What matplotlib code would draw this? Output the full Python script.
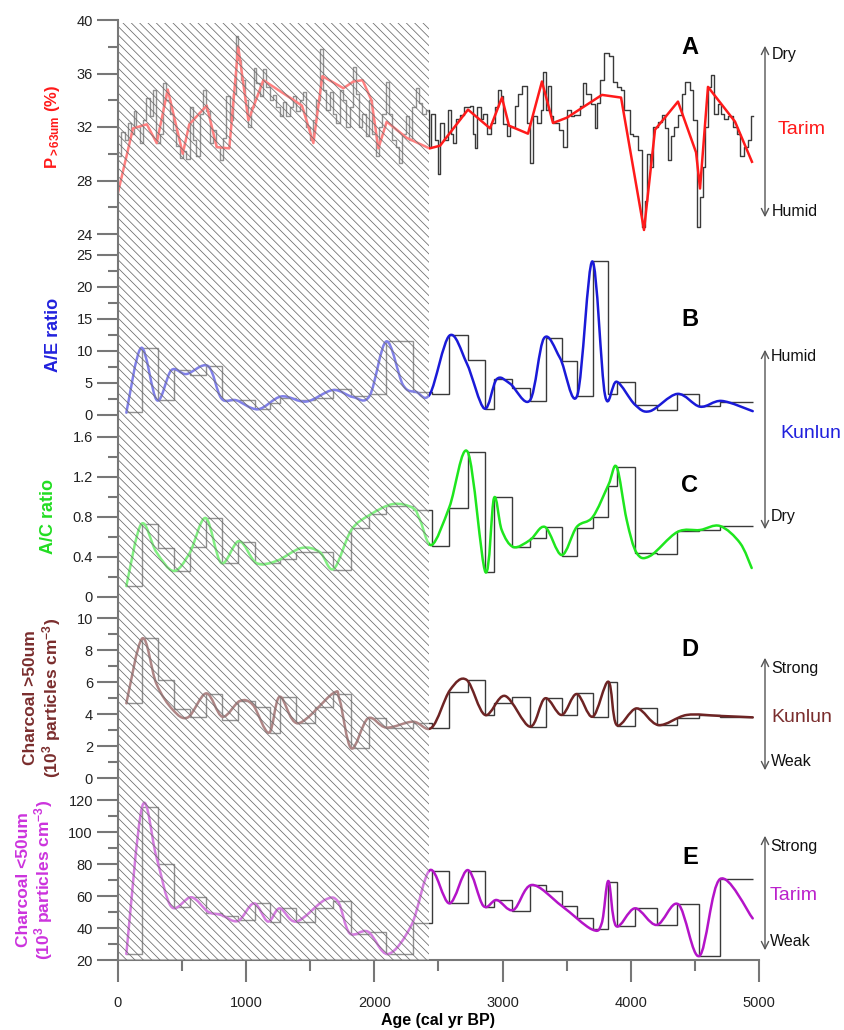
import numpy as np
import matplotlib.pyplot as plt
from matplotlib.path import Path
from matplotlib.patches import PathPatch, Rectangle, FancyArrowPatch

plt.rcParams['font.family'] = ['Liberation Sans', 'DejaVu Sans']
plt.rcParams['mathtext.fontset'] = 'custom'
plt.rcParams['mathtext.rm'] = 'Liberation Sans'
plt.rcParams['mathtext.bf'] = 'Liberation Sans:bold'
plt.rcParams['mathtext.it'] = 'Liberation Sans:italic'
plt.rcParams['hatch.linewidth'] = 0.55

# ---------------- data ----------------
# A: grain size >63um, high-resolution step record + coarse red line
a_step_age = [0, 25, 52, 78, 104, 125, 143, 169, 195, 221, 247, 273, 299, 325, 351, 377, 403, 429,
              455, 481, 507, 533, 559, 585, 611, 637, 663, 689, 715, 741, 767, 793, 819, 845, 871,
              897, 920, 938, 962, 988, 1014, 1040, 1060, 1080, 1105, 1131, 1157, 1183, 1209, 1235,
              1261, 1287, 1313, 1339, 1365, 1391, 1417, 1443, 1469, 1495, 1521, 1547, 1573, 1599,
              1625, 1651, 1677, 1703, 1729, 1755, 1781, 1807, 1830, 1855, 1880, 1906, 1932, 1958,
              1984, 2010, 2036, 2062, 2088, 2114, 2140, 2166, 2192, 2218, 2244, 2270, 2296, 2322,
              2348, 2374, 2400, 2426, 2445, 2470, 2500, 2515, 2545, 2577, 2600, 2616, 2640, 2668,
              2700, 2746, 2770, 2785, 2800, 2830, 2850, 2876, 2910, 2940, 2967, 2990, 3006, 3032,
              3060, 3097, 3120, 3150, 3190, 3214, 3235, 3270, 3300, 3318, 3335, 3355, 3375, 3396,
              3440, 3474, 3500, 3530, 3560, 3600, 3630, 3650, 3690, 3721, 3740, 3760, 3790, 3830,
              3860, 3890, 3920, 3950, 3994, 4020, 4055, 4085, 4110, 4130, 4150, 4175, 4210, 4241,
              4270, 4293, 4310, 4340, 4370, 4400, 4420, 4460, 4485, 4519, 4540, 4560, 4580, 4600,
              4625, 4650, 4680, 4700, 4730, 4760, 4800, 4830, 4852, 4885, 4917, 4935, 4951]
a_step_val = [29.8, 31.6, 31.0, 32.3, 31.5, 33.2, 32.0, 30.8, 32.5, 34.2, 32.8, 34.8, 30.8, 31.5,
              35.3, 34.0, 33.0, 31.8, 30.6, 29.7, 30.2, 29.6, 33.5, 31.0, 29.8, 33.0, 34.8, 33.2,
              30.8, 31.8, 30.5, 29.5, 31.2, 34.3, 32.5, 34.5, 38.8, 37.0, 35.5, 34.0, 32.0, 33.5,
              36.4, 35.3, 34.3, 36.3, 35.0, 34.0, 34.4, 33.5, 32.8, 33.9, 32.8, 33.5, 34.3, 33.2,
              34.0, 34.6, 32.0, 31.0, 32.5, 34.0, 37.8, 34.8, 33.3, 34.6, 33.0, 32.3, 34.8, 34.0,
              32.0, 33.5, 36.5, 34.5, 32.0, 33.0, 31.3, 34.0, 31.5, 29.8, 32.0, 33.0, 35.4, 33.0,
              31.0, 30.5, 29.3, 31.5, 32.8, 31.0, 33.5, 34.9, 33.8, 33.0, 33.3,
              30.5, 33.0, 31.0, 28.5, 32.3, 31.0, 33.3, 31.5, 30.8, 32.6, 32.9, 33.5, 33.6, 31.5,
              30.4, 33.5, 32.6, 33.0, 31.5, 32.3, 33.5, 34.8, 34.3, 32.2, 31.3, 32.0, 33.6, 34.5,
              35.1, 32.3, 29.3, 32.8, 32.3, 33.3, 36.1, 33.3, 35.1, 32.8, 32.3, 31.8, 30.5, 33.3,
              32.8, 32.9, 33.6, 35.3, 34.5, 33.7, 31.9, 33.8, 35.5, 37.5, 37.3, 35.4, 35.0, 34.8,
              33.3, 31.5, 31.3, 30.3, 24.5, 26.5, 30.0, 29.0, 32.0, 32.4, 32.9, 31.9, 29.5, 31.3,
              32.0, 32.9, 34.5, 35.4, 34.8, 32.5, 24.5, 26.8, 29.0, 32.0, 35.0, 35.9, 33.0, 33.7,
              33.0, 32.6, 32.8, 32.0, 31.5, 29.8, 30.5, 31.0, 32.8]
a_line_age = [0, 117, 225, 302, 388, 505, 556, 692, 770, 868, 938, 1017, 1134, 1435, 1524, 1594,
              1758, 1836, 1908, 1977, 2031, 2096, 2250, 2430, 2512, 2730, 2902, 2995, 3050, 3198,
              3307, 3393, 3502, 3775, 3924, 4103, 4189, 4368, 4509, 4540, 4602, 4813, 4945]
a_line_val = [27.1, 31.9, 32.2, 30.8, 34.8, 30.0, 32.2, 33.6, 30.5, 30.4, 38.0, 32.5, 35.5, 33.6,
              30.8, 35.8, 34.9, 35.4, 35.5, 34.0, 30.4, 32.4, 31.2, 30.4, 30.6, 33.3, 31.9, 34.2,
              32.1, 31.5, 35.4, 32.3, 32.7, 34.4, 34.2, 24.3, 31.8, 33.9, 30.1, 27.4, 35.0, 32.4, 29.4]

# B-E: sample intervals shared by the pollen / charcoal records
sample_edges = [65, 190, 312, 434, 559, 689, 814, 936, 1066, 1183, 1261, 1391, 1534, 1677, 1815,
                1958, 2093, 2301, 2447, 2585, 2728, 2866, 2933, 3074, 3214, 3339, 3461, 3580, 3703,
                3825, 3890, 4033, 4202, 4363, 4535, 4696, 4951]
ae_step = [0.4, 10.4, 2.3, 7.0, 6.3, 7.65, 2.3, 2.3, 1.0, 1.8, 2.7, 2.3, 2.6, 4.0, 2.9, 3.3, 11.5, 3.6,
           3.3, 12.5, 8.6, 1.0, 5.6, 4.2, 2.2, 12.0, 8.5, 3.0, 24.0, 3.3, 5.1, 1.5, 0.8, 3.3, 1.4, 2.1]
ac_step = [0.11, 0.73, 0.49, 0.26, 0.50, 0.79, 0.34, 0.55, 0.34, 0.34, 0.38, 0.45, 0.45, 0.27, 0.69,
           0.83, 0.91, 0.87, 0.51, 0.89, 1.45, 0.25, 1.00, 0.50, 0.59, 0.70, 0.41, 0.69, 0.80, 1.11,
           1.30, 0.44, 0.43, 0.66, 0.67, 0.71]
chl_step = [4.67, 8.73, 6.13, 4.29, 3.83, 5.25, 3.63, 4.8, 4.46, 2.79, 5.04, 3.46, 4.46, 5.25, 1.85,
            3.73, 3.15, 3.46, 3.15, 5.35, 6.13, 3.94, 4.67, 5.08, 3.21, 4.98, 3.94, 5.29, 3.83, 6.02,
            3.25, 4.35, 3.31, 3.73, 3.94, 3.83]
chs_step = [23.75, 115.8, 80.0, 52.9, 59.2, 49.5, 47.5, 45.0, 55.4, 44.0, 52.3, 44.0, 52.7, 57.1, 36.3,
            37.7, 23.75, 42.9, 75.8, 55.4, 75.8, 53.3, 57.5, 50.8, 66.9, 63.3, 53.8, 46.5, 39.2, 69.0,
            41.25, 52.3, 41.9, 54.8, 22.5, 70.6]

# smoothed curves
ae_curve_age = [65, 182, 304, 416, 533, 702, 806, 923, 1092, 1274, 1469, 1677, 1833, 1963, 2093, 2223,
                2327, 2434, 2585, 2720, 2858, 2954, 3058, 3214, 3323, 3448, 3583, 3700, 3799, 3890,
                4033, 4150, 4363, 4540, 4709, 4951]
ae_curve_val = [0.36, 10.5, 2.3, 7.0, 6.4, 7.65, 2.6, 2.3, 0.9, 2.9, 2.1, 3.9, 2.8, 3.0, 11.5, 4.7,
                3.6, 3.3, 12.4, 8.1, 1.0, 5.6, 4.9, 2.3, 12.0, 8.9, 3.1, 24.0, 3.1, 5.2, 1.6, 0.6,
                3.3, 1.3, 2.2, 0.6]
ac_curve_age = [65, 182, 299, 434, 559, 684, 806, 944, 1079, 1235, 1430, 1573, 1682, 1820, 1963, 2145,
                2301, 2356, 2447, 2585, 2728, 2866, 2933, 2993, 3084, 3214, 3331, 3461, 3578, 3703,
                3825, 3890, 3968, 4046, 4150, 4363, 4540, 4696, 4852, 4943]
ac_curve_val = [0.11, 0.73, 0.45, 0.26, 0.44, 0.79, 0.34, 0.56, 0.34, 0.36, 0.49, 0.45, 0.28, 0.67,
                0.82, 0.93, 0.89, 0.77, 0.52, 0.90, 1.45, 0.25, 0.99, 0.67, 0.50, 0.57, 0.70, 0.42,
                0.70, 0.80, 1.12, 1.30, 0.77, 0.44, 0.41, 0.65, 0.67, 0.71, 0.54, 0.29]
chl_curve_age = [65, 190, 299, 429, 546, 689, 814, 949, 1053, 1178, 1261, 1404, 1677, 1729, 1820, 1950,
                 2093, 2301, 2447, 2590, 2720, 2863, 3019, 3214, 3331, 3461, 3578, 3703, 3825, 3890,
                 4046, 4215, 4436, 4696, 4951]
chl_curve_val = [4.67, 8.73, 5.9, 4.25, 3.79, 5.29, 3.83, 4.81, 4.56, 2.83, 5.08, 3.42, 5.29, 4.88,
                 1.85, 3.73, 3.15, 3.52, 3.15, 5.5, 6.13, 3.94, 5.13, 3.21, 4.98, 3.94, 5.25, 3.83,
                 6.02, 3.31, 4.35, 3.31, 3.94, 3.88, 3.79]
chs_curve_age = [65, 190, 299, 416, 572, 702, 806, 936, 1061, 1170, 1261, 1391, 1612, 1716, 1807, 1950,
                 2106, 2290, 2434, 2585, 2728, 2850, 2954, 3084, 3227, 3461, 3695, 3773, 3825,
                 3885, 4033, 4202, 4371, 4535, 4696, 4951]
chs_curve_val = [23.75, 116.3, 84.6, 53.3, 59.2, 50.2, 48.1, 44.4, 55.4, 44.0, 52.3, 44.0, 57.5, 56.5,
                 36.7, 37.7, 23.75, 42.0, 76.2, 55.4, 76.2, 53.8, 57.5, 51.25, 66.9, 53.8, 39.2,
                 42.9, 69.4, 41.25, 52.3, 41.9, 54.8, 22.5, 70.6, 46.0]

hatch_end = 2428  # upper limit of the hatched interval (cal yr BP)

# ---------------- layout ----------------
W, H = 845, 1030
fig = plt.figure(figsize=(W / 100, H / 100), dpi=100)


def fx(px):
    return px / W


def fy(py):
    return 1 - py / H


X0, X1 = 118, 759
SPINE = '#777777'


def add_panel(top, bottom, ylim, major, minor, labels=None):
    ax = fig.add_axes([fx(X0), fy(bottom), fx(X1) - fx(X0), fy(top) - fy(bottom)])
    ax.patch.set_alpha(0)
    ax.set_xlim(0, 5000)
    ax.set_ylim(*ylim)
    for s in ['top', 'right', 'bottom', 'left']:
        ax.spines[s].set_visible(False)
    ax.set_yticks(major)
    ax.set_yticks(minor, minor=True)
    if labels is not None:
        ax.set_yticklabels(labels)
    ax.tick_params(axis='y', which='major', length=15, width=1.5, color=SPINE,
                   labelsize=10.5, labelcolor='#222222', pad=3)
    ax.tick_params(axis='y', which='minor', length=7.5, width=1.5, color=SPINE)
    ax.tick_params(axis='x', which='both', bottom=False, labelbottom=False)
    return ax


def smooth(ax, x, y, color, lw=1.8):
    # draw a smooth curve through the traced points (Catmull-Rom as Bezier segments)
    pts = np.column_stack([np.asarray(x, float), np.asarray(y, float)])
    ext = np.vstack([pts[0], pts, pts[-1]])
    verts, codes = [pts[0]], [Path.MOVETO]
    for i in range(len(pts) - 1):
        p0, p1, p2, p3 = ext[i], ext[i + 1], ext[i + 2], ext[i + 3]
        verts += [p1 + (p2 - p0) / 6, p2 - (p3 - p1) / 6, p2]
        codes += [Path.CURVE4] * 3
    ax.add_patch(PathPatch(Path(verts, codes), fill=False, edgecolor=color, lw=lw,
                           capstyle='round', joinstyle='round'))


STEP = '#3a3a3a'

# A
axA = add_panel(20, 234, (24, 40), [24, 28, 32, 36, 40], np.arange(26, 40, 4))
axA.step(a_step_age, a_step_val + [a_step_val[-1]], where='post', color=STEP, lw=1.0)
axA.plot(a_line_age, a_line_val, color='#ff1a1a', lw=1.8)
axA.set_ylabel(r'P$_{\mathbf{>63um}}$ (%)', color='#ff1a1a', fontsize=12, fontweight='bold')
axA.yaxis.set_label_coords(-0.087, 0.5)

# B
axB = add_panel(255, 415, (0, 25), [0, 5, 10, 15, 20, 25], np.arange(2.5, 25, 5))
axB.stairs(ae_step, sample_edges, baseline=None, color=STEP, lw=1.0)
smooth(axB, ae_curve_age, ae_curve_val, '#1a1ad8')
axB.set_ylabel('A/E ratio', color='#2222dd', fontsize=13, fontweight='bold')
axB.yaxis.set_label_coords(-0.087, 0.5)

# C
axC = add_panel(437, 597, (0, 1.6), [0, 0.4, 0.8, 1.2, 1.6], [0.2, 0.6, 1.0, 1.4],
                ['0', '0.4', '0.8', '1.2', '1.6'])
axC.stairs(ac_step, sample_edges, baseline=None, color=STEP, lw=1.0)
smooth(axC, ac_curve_age, ac_curve_val, '#1ee61e')
axC.set_ylabel('A/C ratio', color='#22dd22', fontsize=13, fontweight='bold')
axC.yaxis.set_label_coords(-0.095, 0.5)

# D
axD = add_panel(618, 778, (0, 10), [0, 2, 4, 6, 8, 10], [1, 3, 5, 7, 9])
axD.stairs(chl_step, sample_edges, baseline=None, color=STEP, lw=1.0)
smooth(axD, chl_curve_age, chl_curve_val, '#6e2424')
axD.set_ylabel('Charcoal >50um\n(10$^{\\mathbf{3}}$ particles cm$^{\\mathbf{-3}}$)',
               color='#7a2d2d', fontsize=12.5, fontweight='bold', linespacing=1.1)
axD.yaxis.set_label_coords(-0.086, 0.5)

# E
axE = add_panel(800, 960, (20, 120), [20, 40, 60, 80, 100, 120], [30, 50, 70, 90, 110])
axE.stairs(chs_step, sample_edges, baseline=None, color=STEP, lw=1.0)
smooth(axE, chs_curve_age, chs_curve_val, '#b414c8')
axE.set_ylabel('Charcoal <50um\n(10$^{\\mathbf{3}}$ particles cm$^{\\mathbf{-3}}$)',
               color='#cc33dd', fontsize=12.5, fontweight='bold', linespacing=1.1)
axE.yaxis.set_label_coords(-0.098, 0.5)
axE.spines['bottom'].set_visible(True)
axE.spines['bottom'].set_color(SPINE)
axE.spines['bottom'].set_linewidth(1.5)
axE.set_xticks([0, 1000, 2000, 3000, 4000, 5000])
axE.set_xticks(np.arange(500, 5000, 1000), minor=True)
axE.tick_params(axis='x', which='major', bottom=True, labelbottom=True, length=16, width=1.5,
                color=SPINE, labelsize=10.5, labelcolor='#222222', pad=10)
axE.tick_params(axis='x', which='minor', bottom=True, length=8, width=1.5, color=SPINE)
axE.set_xlabel('Age (cal yr BP)', fontsize=11.5, fontweight='bold', labelpad=2)

# hatched interval drawn over the records (fades them) + continuous left axis line
axbg = fig.add_axes([fx(X0), fy(960), fx(X1) - fx(X0), fy(20) - fy(960)])
axbg.set_zorder(10)
axbg.patch.set_alpha(0)
axbg.set_xlim(0, 5000)
axbg.set_ylim(960, 20)
axbg.axis('off')
axbg.add_patch(Rectangle((0, 23), hatch_end, 937, facecolor=(1, 1, 1, 0.45), edgecolor='none', lw=0))
axbg.add_patch(Rectangle((0, 23), hatch_end, 937, facecolor='none', edgecolor='#6a6a6a', lw=0,
                         hatch='\\\\\\\\'))
axbg.plot([0, 0], [20, 960], color=SPINE, lw=1.5, clip_on=False)

# panel letters
for letter, py in zip('ABCDE', [48, 320, 485, 650, 857]):
    fig.text(fx(690), fy(py), letter, ha='center', va='center', fontsize=17, fontweight='bold')


# climate arrows and captions
def arrow(top, bottom):
    fig.add_artist(FancyArrowPatch((fx(765), fy(bottom)), (fx(765), fy(top)),
                                   transform=fig.transFigure, arrowstyle='<->',
                                   mutation_scale=13, color='#555555', lw=1.0))


def note(px, py, s, color='#111111', size=11.5):
    fig.text(fx(px), fy(py), s, ha='left', va='center', fontsize=size, color=color)


arrow(43, 220)
note(772, 55, 'Dry')
note(772, 212, 'Humid')
note(778, 130, 'Tarim', '#ff1a1a', 14)

arrow(347, 532)
note(771, 357, 'Humid')
note(771, 517, 'Dry')
note(780, 433, 'Kunlun', '#2020dd', 14)

arrow(655, 773)
note(771, 668, 'Strong')
note(771, 717, 'Kunlun', '#7a2d2d', 14)
note(771, 762, 'Weak')

arrow(833, 953)
note(770, 847, 'Strong')
note(770, 895, 'Tarim', '#bb22cc', 14)
note(770, 941, 'Weak')

fig.savefig('out.png', dpi=100)
